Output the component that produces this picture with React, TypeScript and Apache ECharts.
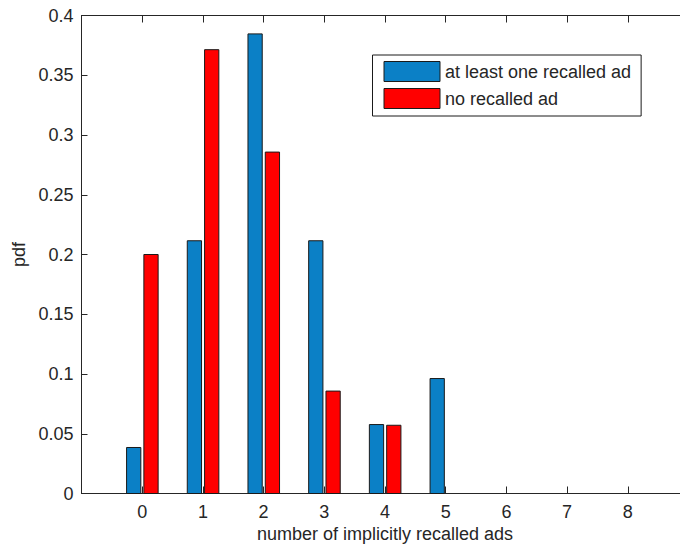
import React, { useEffect, useRef } from "react";
import * as echarts from "echarts";

const categories = [0, 1, 2, 3, 4, 5];
const atLeastOne = [0.0385, 0.2115, 0.3846, 0.2115, 0.0577, 0.0962];
const noRecalled = [0.2, 0.3714, 0.2857, 0.0857, 0.0571, 0];
const xTickLabels = ["0", "1", "2", "3", "4", "5", "6", "7", "8"];
const seriesNames = ["at least one recalled ad", "no recalled ad"];

const FONT = "Liberation Sans, Arial, sans-serif";
const TXT = "#262626";
const AX = "#262626";
const BLUE = "#0b80c6";
const RED = "#ff0000";

function makeRender(offset: number, width: number, color: string) {
  return (params: any, api: any) => {
    const x = api.value(0);
    const y = api.value(1);
    if (!y) return null;
    const p0 = api.coord([x + offset - width / 2, y]);
    const p1 = api.coord([x + offset + width / 2, 0]);
    return {
      type: "rect",
      shape: { x: p0[0], y: p0[1], width: p1[0] - p0[0], height: p1[1] - p0[1] },
      style: { fill: color, stroke: "#1a1a1a", lineWidth: 1 },
    };
  };
}

export default function App() {
  const ref = useRef<HTMLDivElement>(null);
  useEffect(() => {
    if (!ref.current) return;
    const chart = echarts.init(ref.current, null, { renderer: "svg" });
    const blueData = categories.map((c, i) => [c, atLeastOne[i]]);
    const redData = categories.map((c, i) => [c, noRecalled[i]]);
    const commonX = {
      type: "value",
      min: -1,
      max: 9,
      interval: 1,
      splitLine: { show: false },
      axisLine: { show: true, onZero: false, lineStyle: { color: AX, width: 1 } },
      axisTick: { show: true, inside: true, length: 7, lineStyle: { color: AX, width: 1 } },
    };
    chart.setOption({
      animation: false,
      backgroundColor: "#ffffff",
      textStyle: { fontFamily: FONT },
      grid: { left: 81.5, top: 15.5, width: 607, height: 478, containLabel: false },
      legend: {
        orient: "vertical",
        left: 372.5,
        top: 55,
        padding: [6, 10, 7, 11],
        itemWidth: 56,
        itemHeight: 20,
        itemGap: 6,
        borderColor: "#1a1a1a",
        borderWidth: 1,
        backgroundColor: "#ffffff",
        textStyle: { fontFamily: FONT, fontSize: 18, color: TXT },
        data: [
          { name: seriesNames[0], icon: "rect", itemStyle: { color: BLUE, borderColor: "#1a1a1a", borderWidth: 1 } },
          { name: seriesNames[1], icon: "rect", itemStyle: { color: RED, borderColor: "#1a1a1a", borderWidth: 1 } },
        ],
      },
      xAxis: [
        {
          ...commonX,
          position: "bottom",
          name: "number of implicitly recalled ads",
          nameLocation: "middle",
          nameGap: 30,
          nameTextStyle: { fontFamily: FONT, fontSize: 18, color: TXT },
          axisLabel: {
            fontFamily: FONT,
            fontSize: 18,
            color: TXT,
            margin: 9,
            formatter: (v: number) => (v >= 0 && v <= 8 ? xTickLabels[v] : ""),
          },
        },
        {
          ...commonX,
          position: "top",
          axisLabel: { show: false },
        },
      ],
      yAxis: [
        {
          type: "value",
          min: 0,
          max: 0.4,
          interval: 0.05,
          position: "left",
          name: "pdf",
          nameLocation: "middle",
          nameGap: 52,
          nameTextStyle: { fontFamily: FONT, fontSize: 18, color: TXT },
          splitLine: { show: false },
          axisLine: { show: true, onZero: false, lineStyle: { color: AX, width: 1 } },
          axisTick: { show: true, inside: true, length: 6, lineStyle: { color: AX, width: 1 } },
          axisLabel: {
            fontFamily: FONT,
            fontSize: 18,
            color: TXT,
            margin: 8,
            formatter: (v: number) => String(Math.round(v * 100) / 100),
          },
        },
      ],
      series: [
        {
          name: seriesNames[0],
          type: "custom",
          xAxisIndex: 0,
          yAxisIndex: 0,
          itemStyle: { color: BLUE },
          renderItem: makeRender(-0.14, 0.235, BLUE),
          encode: { x: 0, y: 1 },
          data: blueData,
          z: 3,
        },
        {
          name: seriesNames[1],
          type: "custom",
          xAxisIndex: 0,
          yAxisIndex: 0,
          itemStyle: { color: RED },
          renderItem: makeRender(0.145, 0.235, RED),
          encode: { x: 0, y: 1 },
          data: redData,
          z: 3,
        },
      ],
    });
    return () => chart.dispose();
  }, []);
  return (
    <div
      style={{
        position: "fixed",
        left: 0,
        top: 0,
        width: 680,
        height: 549,
        overflow: "hidden",
        background: "#ffffff",
      }}
    >
      <div ref={ref} style={{ width: 700, height: 549 }} />
    </div>
  );
}
